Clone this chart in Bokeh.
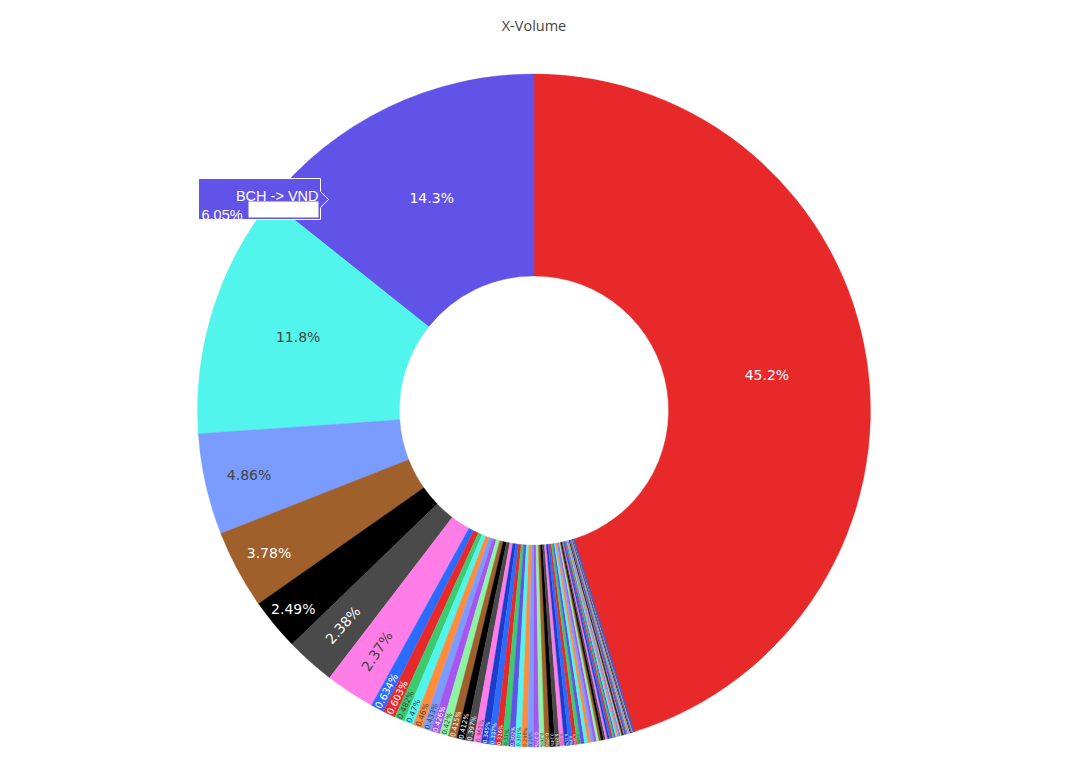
import math
from bokeh.plotting import figure
from bokeh.models import Range1d, ColumnDataSource
from bokeh.core.properties import value
from bokeh.embed import file_html
from bokeh.resources import INLINE

# ---------------- data ----------------
chart_title = "X-Volume"
# share of volume per pair, in percent, sorted descending
shares = [
    45.2, 14.3, 11.8, 4.86, 3.78, 2.49, 2.38, 2.37,
    0.634, 0.603, 0.482, 0.47, 0.46, 0.433, 0.426, 0.42, 0.415, 0.412,
    0.397, 0.361, 0.345, 0.337, 0.316, 0.31, 0.302, 0.301,
    0.298, 0.28, 0.27, 0.26, 0.25, 0.24, 0.23, 0.22, 0.21, 0.2,
    0.19, 0.18, 0.17, 0.16, 0.15, 0.14, 0.13, 0.12, 0.11, 0.105, 0.1,
    0.095, 0.09, 0.085, 0.08, 0.075, 0.07, 0.065, 0.06, 0.055, 0.05, 0.05,
    0.045, 0.04, 0.04, 0.035, 0.035, 0.03, 0.03, 0.03, 0.025, 0.025, 0.025,
    0.02, 0.02, 0.02, 0.02, 0.015, 0.015, 0.015, 0.015,
    0.01, 0.01, 0.01, 0.01, 0.01, 0.01, 0.008, 0.008, 0.006, 0.006,
    0.006, 0.005, 0.004, 0.003, 0.003,
]
hover_name = "BCH -> VND"
hover_value = "6.05%"

# colours
head_colors = [
    "#E8292A", "#6152E8", "#52F5EC", "#7B9CFF", "#A0602C", "#000000", "#4A4A4A", "#FF7DE6",
    "#2C6BFF", "#E8292A", "#3CCB6E", "#52F5EC", "#FF8C3C", "#7B9CFF", "#A855F0", "#8CF5A5",
    "#A0602C", "#000000", "#4A4A4A", "#FF7DE6",
]
cycle_colors = [
    "#1C3CCC", "#2C6BFF", "#E8292A", "#3CCB6E", "#6152E8", "#52F5EC", "#FF8C3C",
    "#7B9CFF", "#A855F0", "#8CF5A5", "#A0602C", "#000000", "#4A4A4A", "#FF7DE6",
]

# ---------------- geometry (pixels) ----------------
FW, FH = 1056, 748
PH = 764
CX, CY_SCR = 533.5, 410.0
CY = PH - CY_SCR
R = 336.5
HOLE = 0.4
R_IN = R * HOLE
RING = 1 - HOLE
FONT_PX = 14.0
TEXTPAD = 3
MIN_FONT = 3.0

p = figure(width=FW, height=FH, x_range=Range1d(0, FW), y_range=Range1d(PH - FH, PH),
           output_backend="svg", toolbar_location=None, min_border=0,
           x_axis_type=None, y_axis_type=None)
p.grid.visible = False
p.outline_line_color = None
p.background_fill_color = "white"
p.border_fill_color = "white"


def color_for(i):
    return head_colors[i] if i < len(head_colors) else cycle_colors[(i - len(head_colors)) % len(cycle_colors)]


def is_dark(hexc):
    r, g, b = int(hexc[1:3], 16), int(hexc[3:5], 16), int(hexc[5:7], 16)
    return (r * 299 + g * 587 + b * 114) / 1000 < 128


CHAR_W = {".": 0.318, "%": 0.950}


def text_box(s, fs):
    w = fs * sum(CHAR_W.get(c, 0.636) for c in s)
    h = fs * 1.164
    return w, h


def max_half(a, half, r, ring):
    q = a + 1 / (2 * math.tan(half))
    return r * min(1 / (math.sqrt(q * q + 0.5) + q), ring / (math.sqrt(a * a + ring / 2) + a))


def rot(t):
    return (180 / math.pi * t + 720) % 180 - 90


def fmt(v):
    return f"{v:.3g}%"


total = sum(shares)
fr = [v / total for v in shares]

starts, ends, fills = [], [], []
tx, ty, tt, ta, tsz, tcol = [], [], [], [], [], []
cum = 0.0
for i, f in enumerate(fr):
    a_start = 2 * math.pi * (fr[0] - cum)
    a_stop = a_start - 2 * math.pi * f
    cum += f
    starts.append(math.pi / 2 - a_start)
    ends.append(math.pi / 2 - a_stop)
    col = color_for(i)
    fills.append(col)

    # plotly-style inside text placement
    label = fmt(shares[i])
    half = math.pi * f
    a_mid = (a_start + a_stop) / 2
    w, h = text_box(label, FONT_PX)
    r_ins = min(1 / (1 + 1 / math.sin(half)), RING / 2)
    diag = math.hypot(w, h)
    hz = (r_ins * R * 2 / diag, 1 - r_ins, 0.0)
    if hz[0] >= 1:
        best = hz
    else:
        cands = [hz]
        rr = max(0, R - 2 * TEXTPAD)
        a = w / h
        s = max_half(a, half, rr, RING)
        cands.append((2 * s / h, math.cos(s / rr) - a * s / rr, rot(a_mid)))
        a = h / w
        s = max_half(a, half, rr, RING)
        cands.append((2 * s / w, math.cos(s / rr) - a * s / rr, rot(a_mid + math.pi / 2)))
        best = max(cands, key=lambda c: c[0])
    fs = FONT_PX * min(1.0, best[0])
    if fs < MIN_FONT:
        continue
    rc = best[1] * R
    tx.append(CX + rc * math.sin(a_mid))
    ty.append(CY + rc * math.cos(a_mid))
    tt.append(label)
    ta.append(-best[2])
    tsz.append(f"{fs:.2f}px")
    tcol.append("#ffffff" if is_dark(col) else "#444444")

wsrc = ColumnDataSource(dict(start=starts, end=ends, color=fills))
p.annular_wedge(x=CX, y=CY, inner_radius=R_IN, outer_radius=R, start_angle="start", end_angle="end",
                fill_color="color", line_color="color", line_width=0.4, source=wsrc)

tsrc = ColumnDataSource(dict(x=tx, y=ty, text=tt, angle=ta, size=tsz, color=tcol))
p.text(x="x", y="y", text="text", angle="angle", angle_units="deg", text_font_size="size",
       text_color="color", text_align="center", text_baseline="middle",
       text_font=value("DejaVu Sans"), source=tsrc)

# title
p.text(x=[CX], y=[PH - 25], text=[chart_title], text_font=value("Open Sans"), text_font_size="14.5px",
       text_color="#444444", text_align="center", text_baseline="alphabetic")

# hover label annotation (as shown in the screenshot)
hx = [198, 320, 320, 328, 320, 320, 198]
hy = [178, 178, 191, 199, 207, 219, 219]
p.patch(x=hx, y=[PH - v for v in hy], fill_color=head_colors[1], line_color="white", line_width=1)
p.quad(left=[248], right=[318], top=[PH - 201], bottom=[PH - 217], fill_color="white", line_color=None)
p.text(x=[318], y=[PH - 195], text=[hover_name], text_font=value("Liberation Sans"), text_font_size="14.5px",
       text_color="white", text_align="right", text_baseline="alphabetic")
p.text(x=[201], y=[PH - 214], text=[hover_value], text_font=value("Liberation Sans"), text_font_size="14.5px",
       text_color="white", text_align="left", text_baseline="alphabetic")

open("out.html", "w").write(file_html(p, INLINE))
